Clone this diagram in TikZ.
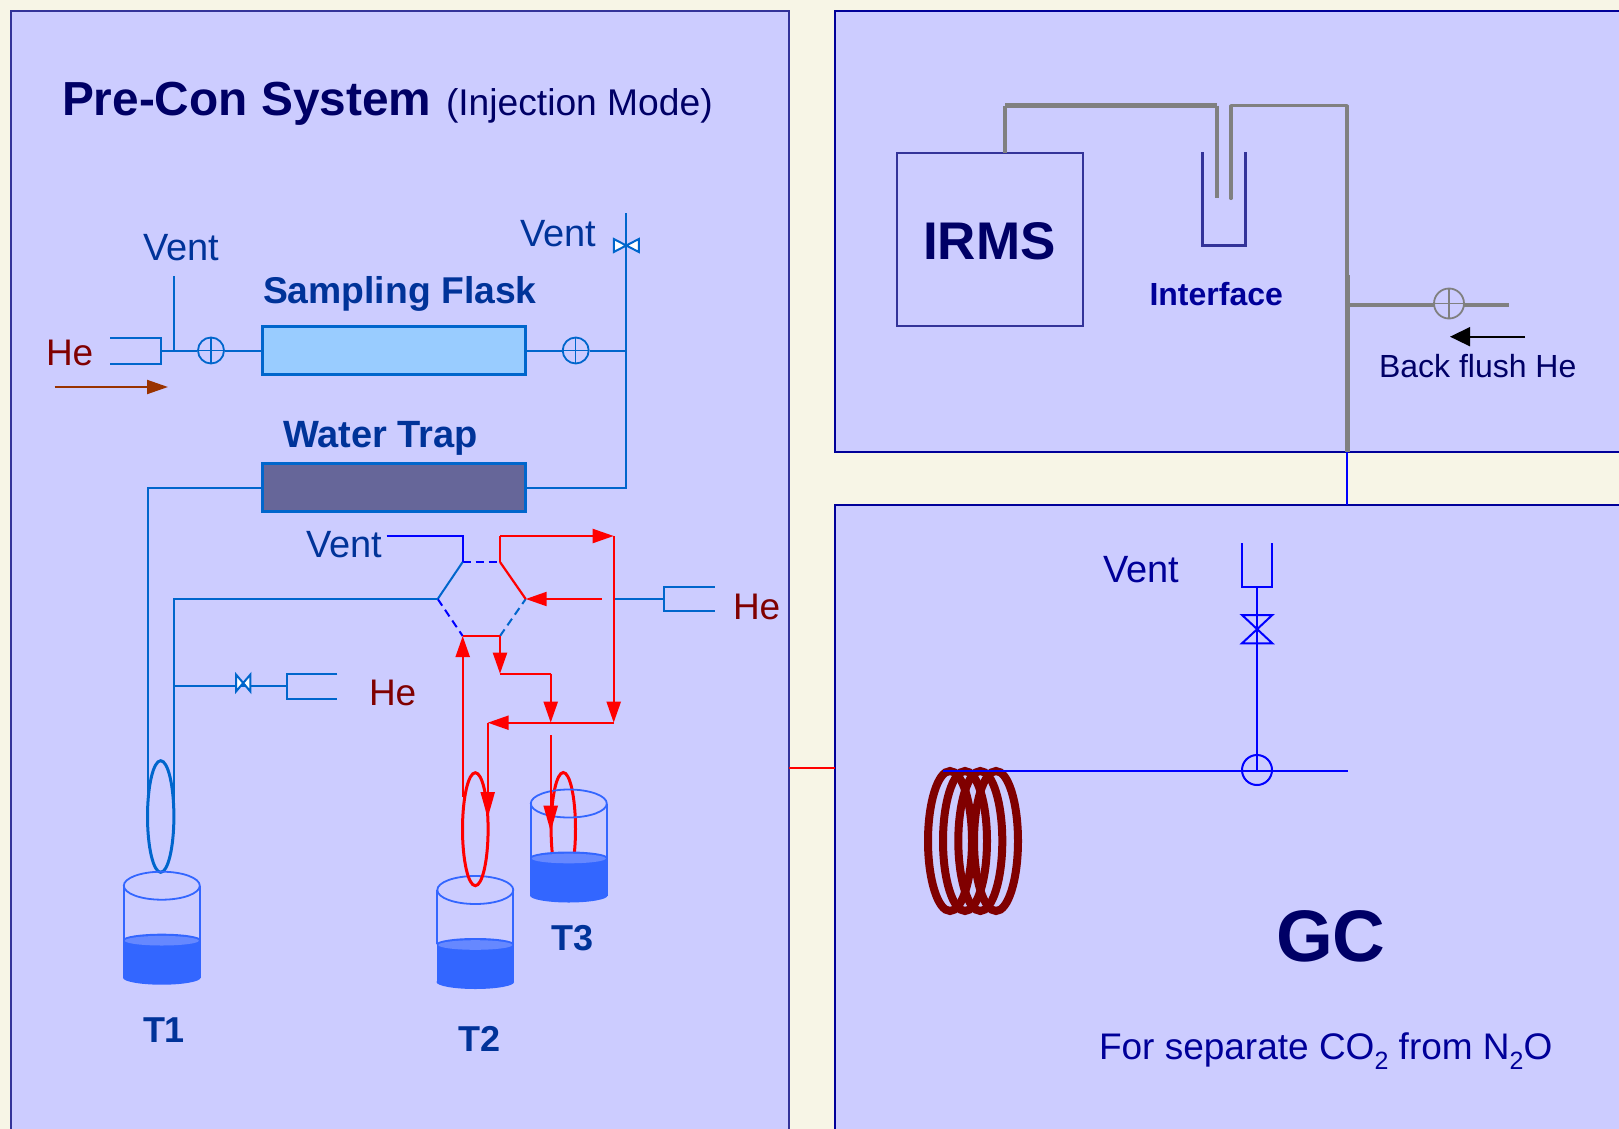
\documentclass[tikz,border=0pt]{standalone}
\usepackage{fontspec}
\setmainfont{Liberation Sans}
\usetikzlibrary{arrows.meta}
\definecolor{cream}{HTML}{F7F5E6}
\definecolor{panelc}{HTML}{CCCCFF}
\definecolor{edgec}{HTML}{333399}
\definecolor{edged}{HTML}{000099}
\definecolor{pipe}{HTML}{0066CC}
\definecolor{liq}{HTML}{3366FF}
\definecolor{liqtop}{HTML}{6688FF}
\definecolor{navy}{HTML}{000066}
\definecolor{labelb}{HTML}{003399}
\definecolor{deepb}{HTML}{000099}
\definecolor{maroonc}{HTML}{800000}
\definecolor{rustc}{HTML}{993300}
\definecolor{greyp}{HTML}{808080}
\definecolor{flaskc}{HTML}{99CCFF}
\definecolor{trapc}{HTML}{666699}
\newcommand{\fs}[1]{\fontsize{#1}{#1}\selectfont}
\tikzset{
  x=1pt,y=-1pt,
  panel/.style={fill=panelc,draw=edgec,line width=2pt},
  txt/.style={anchor=base west,inner sep=0pt,outer sep=0pt},
  ventlab/.style={txt,text=labelb,font=\fs{38}},
  helab/.style={txt,text=maroonc,font=\fs{37}},
  boldlab/.style={txt,text=labelb,font=\fs{37.3}\bfseries},
  tanklab/.style={txt,text=labelb,font=\fs{36}\bfseries},
  bl/.style={draw=pipe,line width=2pt},
  bb/.style={draw=blue,line width=2pt},
  rd/.style={draw=red,line width=2.2pt},
  rda/.style={rd,-{Triangle[length=21pt,width=14pt]}},
  rdb/.style={rd,-{Triangle[length=26pt,width=14pt]}},
  gr/.style={draw=greyp,line width=3.5pt},
  grt/.style={draw=greyp,line width=5pt},
  column/.style={draw=pipe,line width=3pt,minimum width=263pt,minimum height=48pt,inner sep=0pt},
  xvalve/.style 2 args={circle,inner sep=0pt,minimum size=#1,fill=panelc,draw=#2,line width=1.8pt,
    path picture={\draw[line width=1.3pt,draw=#2] (path picture bounding box.north)--(path picture bounding box.south)
      (path picture bounding box.west)--(path picture bounding box.east);}},
  coilring/.style={draw=maroonc,line width=8pt},
  pics/beaker/.style={code={
    \fill[liq] (0,54) ellipse (38.8 and 6);
    \fill[liq] (-38.8,54) rectangle (38.8,92);
    \fill[liq] (0,92) ellipse (38.8 and 7);
    \fill[liqtop] (0,55) ellipse (37 and 4.8);
    \draw[liq,line width=1.8pt] (0,0) ellipse (38 and 14);
    \draw[liq,line width=1.8pt] (-38,0) -- (-38,54) (38,0) -- (38,54);
  }},
  pics/bowtie/.style args={#1/#2}{code={
    \draw[draw=pipe,fill=white,line width=2pt,line join=miter] (-#1,-#2) -- (#1,#2) -- (#1,-#2) -- (-#1,#2) -- cycle;
  }},
}
\begin{document}
\begin{tikzpicture}
\clip (0,0) rectangle (1619,1129);
\fill[cream] (0,0) rectangle (1619,1129);
\draw[panel] (11,11) rectangle (788.5,1160);
\draw[panel,draw=edged] (834.5,11) rectangle (1660,452);
\draw[panel,draw=edged] (834.5,505) rectangle (1660,1160);

% panel links
\coordinate (lp) at (789,768);
\coordinate (gp) at (834.5,768);
\draw[draw=red,line width=1.4pt] (lp) -- (gp);

% titles
\node[txt,text=navy,font=\fs{47.8}\bfseries] (title) at (62,115.5) {Pre-Con System};
\node[txt,text=navy,font=\fs{37.2}] (mode) at (446,115.5) {(Injection Mode)};

% sampling line
\node[column,fill=flaskc] (flask) at (393.5,350.5) {};
\node[column,fill=trapc] (trap) at (393.5,487.5) {};
\node[boldlab] (sflab) at (263,303.5) {Sampling Flask};
\node[boldlab,font=\fs{38}\bfseries] (wtlab) at (283,447) {Water Trap};
\node[ventlab] (v1) at (143,260) {Vent};
\node[ventlab] (v2) at (520,246.5) {Vent};
\node[helab] (he1) at (46,365) {He};
\coordinate (s1a) at (110,338);
\coordinate (s1b) at (161,338);
\coordinate (s1c) at (161,363.5);
\coordinate (s1d) at (110,363.5);
\coordinate (s1m) at (161,350.5);
\coordinate (vj) at (173.7,350.5);
\coordinate (vt) at (173.7,276);
\draw[bl] (s1a) -- (s1b) -- (s1c) -- (s1d);
\draw[bl] (vt) -- (vj);
\node[xvalve={26pt}{pipe}] (xv1) at (211,350.5) {};
\node[xvalve={26pt}{pipe}] (xv2) at (575.7,350.5) {};
\draw[bl] (s1m) -- (xv1.west);
\draw[bl] (xv1.east) -- (flask.west);
\draw[bl] (flask.east) -- (xv2.west);
\coordinate (rtop) at (626,213);
\coordinate (rflask) at (626,350.5);
\coordinate (rtrap) at (626,487.5);
\coordinate (ltrap) at (148.3,487.5);
\coordinate (ltub) at (148.3,816);
\draw[bl] (xv2.east) -- (rflask);
\draw[bl] (rtop) -- (rtrap) -- (trap.east);
\draw[bl] (trap.west) -- (ltrap) -- (ltub);
\pic at (626.3,245.5) {bowtie=12.5/6.5};
\coordinate (hea) at (54.5,387);
\coordinate (heb) at (168,387);
\draw[draw=rustc,line width=2pt,-{Triangle[length=21pt,width=14pt]}] (hea) -- (heb);

% six-port valve
\coordinate (htl) at (462.7,562);
\coordinate (htr) at (500,562);
\coordinate (hr) at (525.7,599);
\coordinate (hbr) at (500,636);
\coordinate (hbl) at (462.7,636);
\coordinate (hl) at (437.7,599);
\draw[bb,dash pattern=on 8pt off 5pt] (htl) -- (htr);
\draw[bl] (htl) -- (hl);
\draw[bb,dash pattern=on 8pt off 5pt] (hl) -- (hbl);
\draw[bl,dash pattern=on 8pt off 5pt] (hbr) -- (hr);
\draw[rd] (hbl) -- (hbr);
\draw[rd] (hr) -- (htr);
\node[ventlab] (v3) at (306,557.5) {Vent};
\coordinate (vv) at (386.7,536);
\coordinate (vvc) at (462.7,536);
\draw[bb] (vv) -- (vvc) -- (htl);
\coordinate (lbend) at (173.7,599);
\coordinate (lbot) at (173.7,816);
\draw[bl] (hl) -- (lbend) -- (lbot);

% He branch left
\coordinate (bj) at (173.7,685.7);
\coordinate (s2m) at (286.7,685.7);
\coordinate (bw) at (243.2,683);
\draw[bl] (bj) -- (s2m);
\pic at (bw) {bowtie=7.2/8.5};
\coordinate (s2a) at (337.3,674);
\coordinate (s2b) at (286.7,674);
\coordinate (s2c) at (286.7,698.7);
\coordinate (s2d) at (337.3,698.7);
\draw[bl] (s2a) -- (s2b) -- (s2c) -- (s2d);
\node[helab] (he2) at (369,705) {He};

% He branch right
\coordinate (rj) at (613.7,599);
\coordinate (s3m) at (664,599);
\draw[bl] (rj) -- (s3m);
\coordinate (s3a) at (714.7,586.7);
\coordinate (s3b) at (664,586.7);
\coordinate (s3c) at (664,611);
\coordinate (s3d) at (714.7,611);
\draw[bl] (s3a) -- (s3b) -- (s3c) -- (s3d);
\node[helab] (he3) at (733,619) {He};

% tanks and loops
\draw[draw=pipe,line width=3pt] (160.7,816.5) ellipse (13.2 and 55.8);
\draw[draw=red,line width=3pt] (563.3,829) ellipse (12.2 and 56.5);
\pic at (161.8,885.7) {beaker};
\pic at (475.3,890) {beaker};
\pic at (568.8,803.5) {beaker};
\draw[draw=red,line width=3pt] (475.3,829.2) ellipse (12.8 and 56.5);
\node[tanklab] (t1) at (143,1042.5) {T1};
\node[tanklab] (t2) at (458,1051.5) {T2};
\node[tanklab] (t3) at (551,950) {T3};

% red flow
\coordinate (ra) at (500,536);
\coordinate (rb) at (613.7,536);
\coordinate (rc) at (613.7,722.7);
\coordinate (rd1) at (487.7,722.7);
\coordinate (re) at (487.7,818);
\coordinate (rf) at (601.7,599);
\coordinate (rg) at (500,673.7);
\coordinate (rh) at (550.7,673.7);
\coordinate (ri) at (550.7,722.7);
\coordinate (rj2) at (550.7,735);
\coordinate (rk) at (550.7,831.7);
\coordinate (rl) at (462.7,796.7);
\draw[rd] (htr) -- (ra);
\draw[rda] (ra) -- (rb);
\draw[rda] (rb) -- (rc);
\draw[rda] (rc) -- (rd1);
\draw[rdb] (rd1) -- (re);
\draw[rda] (rf) -- (hr);
\draw[rda] (hbr) -- (rg);
\draw[rd] (rg) -- (rh);
\draw[rda] (rh) -- (ri);
\draw[rdb] (rj2) -- (rk);
\draw[rda] (rl) -- (hbl);

% IRMS panel
\node[draw=edgec,line width=2pt,minimum width=186.5pt,minimum height=173.5pt,inner sep=0pt] (irms) at (990,239.7) {};
\node[txt,text=navy,font=\fs{53}\bfseries] (irmsl) at (923,259) {IRMS};
\node[txt,text=deepb,font=\fs{32}\bfseries] (iface) at (1149.5,305) {Interface};
\coordinate (ca) at (1202.4,152.3);
\coordinate (cb) at (1202.4,245.7);
\coordinate (cc) at (1245.7,245.7);
\coordinate (cd) at (1245.7,152.3);
\draw[draw=edgec,line width=3pt] (ca) -- (cb) -- (cc) -- (cd);
\coordinate (g1) at (1005,152.7);
\coordinate (g2) at (1005,105.7);
\coordinate (g3) at (1217,105.7);
\coordinate (g4) at (1217,198.3);
\coordinate (g5) at (1231,198.3);
\coordinate (g6) at (1231,105.7);
\coordinate (g7) at (1347,105.7);
\coordinate (g8) at (1347,275);
\coordinate (g9) at (1347,452);
\coordinate (g10) at (1347,305.3);
\coordinate (g11) at (1509,305.3);
\draw[gr] (g1) -- (g2);
\draw[grt] (g2) -- (g3);
\draw[draw=greyp,line width=4.5pt] (g3) -- (g4);
\draw[gr,line cap=round,line join=round] (g5) -- (g6) -- (g7) -- (g8);
\draw[grt] (g8) -- (g9);
\draw[draw=greyp,line width=4pt] (g10) -- (g11);
\node[xvalve={30pt}{greyp}] (xv3) at (1449,303.5) {};
\coordinate (ba) at (1525,336.7);
\coordinate (bb1) at (1450,336.7);
\draw[draw=black,line width=1.6pt,-{Triangle[length=20pt,width=19pt]}] (ba) -- (bb1);
\node[txt,text=navy,font=\fs{32}] (bf) at (1379,377.5) {Back flush He};
\coordinate (gc0) at (1347,505);
\draw[draw=blue,line width=1.4pt] (g9) -- (gc0);

% GC panel
\node[txt,text=deepb,font=\fs{38}] (v4) at (1103,582.3) {Vent};
\node[txt,text=navy,font=\fs{73}\bfseries] (gc) at (1276,961.5) {GC};
\node[txt,text=deepb,font=\fs{37}] (sep) at (1099,1059) {For separate CO\raisebox{-.27em}{\fs{25}2} from N\raisebox{-.27em}{\fs{25}2}O};
\foreach \cx in {950,965,980.3,996}{
  \draw[coilring] (\cx,841) ellipse (22 and 70);
}
\coordinate (ga) at (1242,543.3);
\coordinate (gb) at (1242,586.7);
\coordinate (gd) at (1272.3,586.7);
\coordinate (ge) at (1272.3,543.3);
\coordinate (gf) at (1257,586.7);
\coordinate (gj) at (1257,770);
\coordinate (gl) at (943.3,770.5);
\coordinate (gr1) at (1347.7,770.5);
\draw[bb] (ga) -- (gb) -- (gd) -- (ge);
\draw[bb] (gf) -- (gj);
\draw[bb] (gl) -- (gr1);
\draw[bb,line join=miter] (1242,615) -- (1272.3,615) -- (1242,643.3) -- (1272.3,643.3) -- cycle;
\node[circle,draw=blue,line width=2pt,minimum size=30pt,inner sep=0pt] (gcv) at (gj) {};
\end{tikzpicture}
\end{document}
